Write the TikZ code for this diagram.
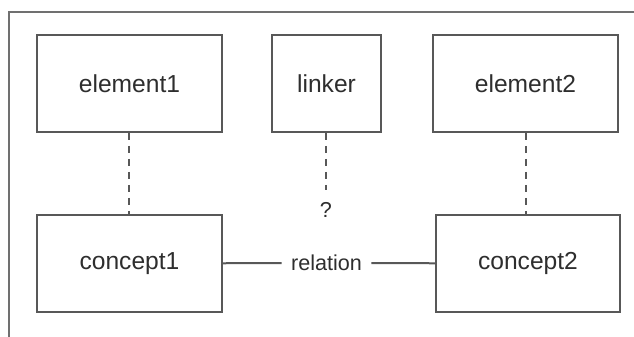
\documentclass[tikz,border=0pt]{standalone}
\usepackage{fontspec}
\setmainfont{Liberation Sans}
\usetikzlibrary{positioning}

\definecolor{framegray}{HTML}{707070}
\definecolor{boxgray}{HTML}{585858}
\definecolor{textgray}{HTML}{2E2E2E}

\begin{document}
\begin{tikzpicture}[x=0.5pt, y=0.5pt,
    box/.style={draw=boxgray, line width=1pt, minimum width=92.5pt, minimum height=48.5pt,
        inner sep=0pt, text=textgray, font=\fontsize{12.3}{14}\selectfont},
    label/.style={text=textgray, inner sep=4.5pt, font=\fontsize{10.8}{13}\selectfont},
    link/.style={draw=boxgray, line width=1pt, dash pattern=on 3.5pt off 3pt},
    rel/.style={draw=boxgray, line width=1pt}]
\useasboundingbox (0,0) rectangle (634,337);

% Outer frame (only left and top edges visible)
\draw[framegray, line width=1pt] (9,0) -- (9,325) -- (634,325);

% Top row
\node[box] (element1) at (129.5,253.5) {element1};
\node[box, minimum width=54.5pt] (linker) at (326.5,253.5) {linker};
\node[box] (element2) at (525.5,253.5) {element2};

% Bottom row
\node[box] (concept1) at (129.5,73.5) {concept1};
\node[box, minimum width=92pt] (concept2) at (528,73.5) {concept2};

% Relation between the concepts
\node[label] (relation) at (326.5,74) {relation};
\draw[rel] (concept1) -- (relation);
\draw[rel] (relation) -- (concept2);

% Dashed links from elements to concepts
\draw[link] (element1) -- (concept1);
\draw[link] (element2.south -| 526,0) -- (concept2.north -| 526,0);

% Open link below the linker
\coordinate (linkend) at (326,147);
\node[label, inner sep=0pt] (query) at (326,127) {?};
\draw[link] (linker.south -| linkend) -- (linkend);
\end{tikzpicture}
\end{document}
